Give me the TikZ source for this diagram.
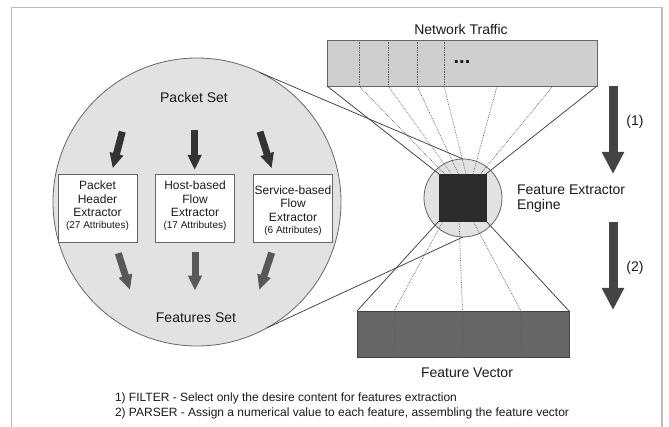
\documentclass[tikz,border=0pt]{standalone}
\usepackage{fontspec}
\setmainfont{Liberation Sans}
\usetikzlibrary{arrows.meta}
\definecolor{framec}{HTML}{BDBDBD}
\definecolor{txt}{HTML}{1A1A1A}
\definecolor{bigfill}{HTML}{E2E2E2}
\definecolor{edge}{HTML}{666666}
\definecolor{ntfill}{HTML}{CFCFCF}
\definecolor{fvfill}{HTML}{666666}
\definecolor{sqfill}{HTML}{2B2B2B}
\definecolor{arrdark}{HTML}{333333}
\definecolor{arrmid}{HTML}{585858}
\definecolor{arrbig}{HTML}{444444}
\definecolor{linec}{HTML}{404040}
\definecolor{dotc}{HTML}{5E5E5E}
\begin{document}
\begin{tikzpicture}[x=1pt,y=-1pt,
 every node/.style={text=txt, outer sep=0pt, inner sep=0pt},
 lbl/.style={font=\fontsize{14}{16}\selectfont},
 bigcirc/.style={circle, draw=edge, fill=bigfill, line width=0.8pt, minimum size=288pt},
 smallcirc/.style={circle, draw=edge, fill=bigfill, line width=0.8pt, minimum size=78pt},
 sqnode/.style={rectangle, fill=sqfill, draw=sqfill, line width=0.5pt, minimum size=47pt},
 ntnode/.style={rectangle, draw=edge, fill=ntfill, line width=0.8pt, minimum width=270pt, minimum height=46pt},
 fvnode/.style={rectangle, draw=linec, fill=fvfill, line width=0.8pt, minimum width=212pt, minimum height=46pt},
 exbox/.style={rectangle, draw=edge, fill=white, line width=0.8pt, minimum width=79pt, minimum height=68pt},
 boxtext/.style={align=center, font=\fontsize{12}{13.6}\selectfont},
 divider/.style={dotc, densely dotted, line width=0.7pt},
 fanline/.style={dotc, densely dotted, line width=0.7pt},
 solidline/.style={linec, line width=0.75pt},
 bigarrow/.style={arrbig, line width=9pt, -{Triangle[width=21pt,length=22pt]}},
 toparrow/.style={arrdark, line width=7pt, -{Triangle[width=13pt,length=15pt]}},
 botarrow/.style={arrmid, line width=7pt, -{Triangle[width=13pt,length=15pt]}}
]
\useasboundingbox (0,0) rectangle (669,427);
\fill[white] (0,0) rectangle (669,427);
\draw[framec, line width=1.3pt] (11.5,427) -- (11.5,7.5) -- (662,7.5) -- (662,427);

% big circle
\node[bigcirc] (bc) at (197,202) {};
% small circle (engine)
\node[smallcirc] (sc) at (463,198) {};

% network traffic
\node[ntnode] (nt) at (462,63) {};
\node[lbl] (ntl) at (461,30) {Network Traffic};
\node (dots) at (462,62) {\fontsize{20}{20}\selectfont\bfseries ...};
\coordinate (n1) at (359,86);
\coordinate (n2) at (388,86);
\coordinate (n3) at (417,86);
\coordinate (n4) at (444,86);
\coordinate (n5) at (497,86);
\coordinate (n6) at (553,86);
\foreach \c in {n1,n2,n3,n4} \draw[divider] (\c |- nt.north) -- (\c);

% feature vector
\node[fvnode] (fv) at (463,334) {};
\node[lbl] (fvl) at (467,373) {Feature Vector};
\coordinate (f1) at (394,311);
\coordinate (f2) at (462.5,311);
\coordinate (f3) at (521,311);
\foreach \c in {f1,f2,f3} \draw[divider] (\c) -- (\c |- fv.south);

% square targets
\coordinate (t1) at (444.5,174);
\coordinate (t2) at (451.5,174);
\coordinate (t3) at (458.5,174);
\coordinate (t4) at (466,174);
\coordinate (t5) at (473,174);
\coordinate (t6) at (480.5,174);
\coordinate (u1) at (443,221);
\coordinate (u2) at (459,221);
\coordinate (u3) at (473,221);

\node[sqnode] (sq) at (462.5,197.5) {};

% fan lines
\foreach \a/\b in {n1/t1,n2/t2,n3/t3,n4/t4,n5/t5,n6/t6} \draw[fanline] (\a) -- (\b);
\foreach \a/\b in {u1/f1,u2/f2,u3/f3} \draw[fanline] (\a) -- (\b);
\draw[solidline] (nt.south west) -- (sq.north west);
\draw[solidline] (nt.south east) -- (sq.north east);
\draw[solidline] (sq.south west) -- (fv.north west);
\draw[solidline] (sq.south east) -- (fv.north east);
\draw[solidline] (bc.64.5) -- (sc.north);
\draw[solidline] (bc.-61) -- (sc.south);
\node[sqnode] at (sq) {};

\node[lbl, anchor=west, align=left, font=\fontsize{14}{15}\selectfont] (fel) at (517,198.5) {Feature Extractor\\Engine};

% big arrows
\coordinate (a1s) at (613,86);
\coordinate (a1e) at (613,174);
\coordinate (a2s) at (613,222);
\coordinate (a2e) at (613,310);
\draw[bigarrow] (a1s) -- (a1e);
\draw[bigarrow] (a2s) -- (a2e);
\node[lbl] (l1) at (635,122) {(1)};
\node[lbl] (l2) at (635,268) {(2)};

% inside big circle
\node[lbl] (ps) at (194,97) {Packet Set};
\node[lbl] (fs) at (196,318) {Features Set};
\node[exbox] (b1) at (97.5,208) {};
\node[exbox] (b2) at (195,208) {};
\node[exbox] (b3) at (293,208) {};
\node[boxtext] (b1t) at (97.5,206) {Packet\\Header\\Extractor\\[-1.5pt]{\fontsize{10}{12}\selectfont (27 Attributes)}};
\node[boxtext] (b2t) at (195,206) {Host-based\\Flow\\Extractor\\[-1.5pt]{\fontsize{10}{12}\selectfont (17 Attributes)}};
\node[boxtext] (b3t) at (293,210.5) {Service-based\\Flow\\Extractor\\[-1.5pt]{\fontsize{10}{12}\selectfont (6 Attributes)}};

\coordinate (p1s) at (122.3,131.7); \coordinate (p1e) at (112.7,168.3);
\coordinate (p2s) at (194.7,130);   \coordinate (p2e) at (194.7,170);
\coordinate (p3s) at (260,131.7);   \coordinate (p3e) at (271.7,168.3);
\coordinate (q1s) at (118.3,253.3); \coordinate (q1e) at (130,290);
\coordinate (q2s) at (195,251.7);   \coordinate (q2e) at (195,290.7);
\coordinate (q3s) at (271.7,252.7); \coordinate (q3e) at (259.3,290);
\draw[toparrow] (p1s) -- (p1e);
\draw[toparrow] (p2s) -- (p2e);
\draw[toparrow] (p3s) -- (p3e);
\draw[botarrow] (q1s) -- (q1e);
\draw[botarrow] (q2s) -- (q2e);
\draw[botarrow] (q3s) -- (q3e);

% legend
\node[anchor=west, align=left, font=\fontsize{12}{15}\selectfont] (leg) at (115,405.5) {1) FILTER - Select only the desire content for features extraction\\2) PARSER - Assign a numerical value to each feature, assembling the feature vector};
\end{tikzpicture}
\end{document}
